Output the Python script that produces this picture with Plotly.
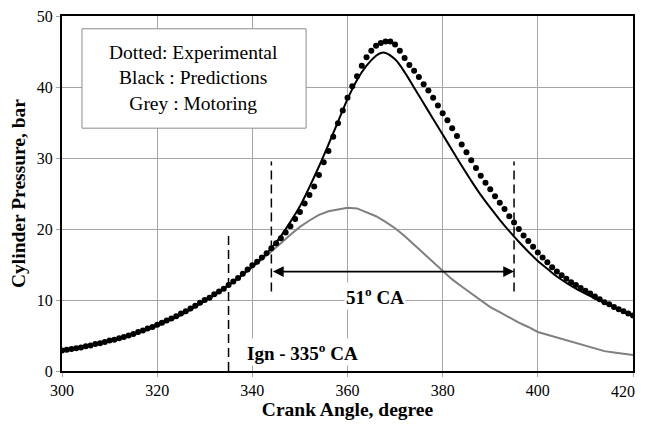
import plotly.graph_objects as go

# Experimental (dotted), 1-degree steps 300..420
exp_angle = list(range(300, 421))
exp_pressure = [
    2.9, 3.0, 3.1, 3.2, 3.3, 3.5, 3.6, 3.8, 3.9, 4.1,
    4.3, 4.4, 4.6, 4.8, 5.0, 5.2, 5.5, 5.7, 6.0, 6.2,
    6.5, 6.8, 7.1, 7.4, 7.7, 8.1, 8.4, 8.8, 9.2, 9.6,
    10.0, 10.3, 10.8, 11.2, 11.6, 12.1, 12.6, 13.1, 13.7, 14.3,
    14.9, 15.4, 16.0, 16.6, 17.3, 18.0, 18.7, 19.5, 20.4, 21.4,
    22.4, 23.6, 24.8, 26.0, 27.6, 29.4, 31.0, 33.0, 34.9, 36.7,
    38.5, 40.1, 41.5, 43.0, 44.2, 45.1, 45.8, 46.2, 46.4, 46.4,
    46.0, 45.1, 44.1, 43.1, 42.3, 41.4, 40.4, 39.5, 38.5, 37.4,
    36.3, 35.3, 34.2, 33.1, 31.9, 30.8, 29.7, 28.6, 27.5, 26.5,
    25.6, 24.6, 23.7, 22.8, 21.8, 20.9, 20.0, 19.1, 18.3, 17.5,
    16.7, 16.0, 15.3, 14.6, 14.0, 13.5, 13.0, 12.5, 12.1, 11.7,
    11.3, 10.9, 10.5, 10.1, 9.7, 9.4, 9.0, 8.7, 8.4, 8.1,
    7.8,
]

# Predictions (black line)
pred_angle = [300, 302, 304, 306, 308, 310, 312, 314, 316, 318, 320, 322, 324, 326, 328,
              330, 332, 334, 336, 338, 340, 342, 344, 346, 348, 350, 352, 354, 356, 358,
              360, 362, 364, 366, 367, 368, 370, 372, 374, 376, 378, 380, 382, 384, 386,
              388, 390, 392, 394, 396, 398, 400, 402, 404, 406, 408, 410, 412, 414, 416,
              418, 420]
pred_pressure = [2.8, 3.1, 3.3, 3.6, 3.9, 4.3, 4.6, 5.0, 5.4, 5.9, 6.4, 7.0, 7.6, 8.3, 9.1,
                 9.9, 10.7, 11.6, 12.6, 13.6, 14.7, 15.9, 17.3, 19.0, 21.0, 23.2, 25.9, 28.8, 31.9, 35.1,
                 38.3, 41.0, 43.0, 44.4, 44.8, 44.8, 43.9, 42.1, 39.9, 37.7, 35.5, 33.3, 31.1, 28.9, 26.8,
                 24.8, 23.0, 21.3, 19.7, 18.2, 16.8, 15.5, 14.4, 13.3, 12.4, 11.6, 10.9, 10.2, 9.6, 9.0,
                 8.4, 7.8]

# Motoring (grey line)
mot_angle = [300, 302, 304, 306, 308, 310, 312, 314, 316, 318, 320, 322, 324, 326, 328,
             330, 332, 334, 336, 338, 340, 342, 344, 346, 348, 350, 352, 354, 356, 358,
             360, 362, 364, 366, 368, 370, 372, 374, 376, 378, 380, 382, 384, 386, 388,
             390, 392, 394, 396, 398, 400, 402, 404, 406, 408, 410, 412, 414, 416, 418, 420]
mot_pressure = [2.7, 3.0, 3.2, 3.5, 3.8, 4.2, 4.5, 4.9, 5.3, 5.8, 6.3, 6.9, 7.5, 8.2, 9.0,
                9.8, 10.6, 11.5, 12.5, 13.5, 14.6, 15.7, 16.8, 18.0, 19.2, 20.3, 21.2, 22.0, 22.5, 22.8,
                23.0, 22.9, 22.4, 21.8, 21.0, 20.1, 19.0, 17.8, 16.6, 15.4, 14.1, 12.9, 11.9, 10.9, 9.9,
                9.0, 8.3, 7.5, 6.8, 6.2, 5.5, 5.1, 4.7, 4.3, 3.9, 3.5, 3.1, 2.8, 2.6, 2.4, 2.25]

x_ticks = [300, 320, 340, 360, 380, 400, 420]
x_tick_labels = ["300", "320", "340", "360", "380", "400", "420"]
y_ticks = [0, 10, 20, 30, 40, 50]

ign_angle = 335
comb_start, comb_end = 344, 395

SERIF = "Liberation Serif, Times New Roman, serif"

fig = go.Figure()
fig.add_trace(go.Scatter(x=mot_angle, y=mot_pressure, mode="lines",
                         line=dict(color="#7f7f7f", width=2), name="Motoring"))
fig.add_trace(go.Scatter(x=pred_angle, y=pred_pressure, mode="lines",
                         line=dict(color="black", width=2, shape="spline"), name="Predictions"))
fig.add_trace(go.Scatter(x=exp_angle, y=exp_pressure, mode="markers",
                         marker=dict(color="black", size=6), name="Experimental"))

# legend box
fig.add_shape(type="rect", xref="x", yref="y", x0=304.2, x1=351.3, y0=34.2, y1=48.2,
              line=dict(color="#8c8c8c", width=1), fillcolor="white", layer="between")
fig.add_annotation(x=327.7, y=41.2, xref="x", yref="y", showarrow=False,
                   text="Dotted: Experimental<br>Black : Predictions<br>Grey : Motoring",
                   font=dict(family=SERIF, size=19.5, color="black"), align="center")

# dashed markers
fig.add_shape(type="line", xref="x", yref="y", x0=ign_angle, x1=ign_angle, y0=0, y1=19.0,
              line=dict(color="black", width=1.5, dash="9px,5px"))
for a in (comb_start, comb_end):
    fig.add_shape(type="line", xref="x", yref="y", x0=a, x1=a, y0=11.2, y1=29.5,
                  line=dict(color="black", width=1.5, dash="9px,5px"))

# double arrow
fig.add_annotation(x=comb_end, y=14.0, ax=comb_start, ay=14.0, xref="x", yref="y",
                   axref="x", ayref="y", text="", showarrow=True, arrowhead=2,
                   arrowside="end+start", arrowsize=1.2, arrowwidth=1.8, arrowcolor="black")

fig.add_annotation(x=365.8, y=10.6, xref="x", yref="y", showarrow=False,
                   text="<b>51<sup>o</sup> CA</b>", bgcolor="white",
                   font=dict(family=SERIF, size=19, color="black"))
fig.add_annotation(x=350.5, y=2.7, xref="x", yref="y", showarrow=False,
                   text="<b>Ign - 335<sup>o</sup> CA</b>", bgcolor="white",
                   font=dict(family=SERIF, size=19, color="black"))

# last x tick label drawn as an annotation so it stays inside the visible page
fig.add_annotation(x=x_ticks[-1], y=0, xref="x", yref="y", showarrow=False,
                   text=x_tick_labels[-1], xanchor="right", yanchor="middle",
                   xshift=4, yshift=-20,
                   font=dict(family=SERIF, size=16, color="black"))

# page body has an 8px margin, so margins are offset to place the plot area
fig.update_layout(
    width=645, height=434,
    margin=dict(l=54, r=20, t=8, b=71, autoexpand=False),
    paper_bgcolor="white", plot_bgcolor="white",
    showlegend=False,
    font=dict(family=SERIF, color="black"),
)
fig.update_xaxes(range=[300, 420], tickvals=x_ticks,
                 ticktext=x_tick_labels[:-1] + [""],
                 automargin=False, ticklabeloverflow="allow",
                 showgrid=True, gridcolor="#a6a6a6", gridwidth=1,
                 showline=True, linecolor="black", linewidth=2, mirror=True,
                 ticks="outside", ticklen=4, tickcolor="#a6a6a6",
                 tickfont=dict(family=SERIF, size=16, color="black"),
                 title=dict(text="<b>Crank Angle, degree</b>", standoff=0,
                            font=dict(family=SERIF, size=19.5, color="black")),
                 zeroline=False)
fig.update_yaxes(range=[0, 50], tickvals=y_ticks, ticktext=[str(v) for v in y_ticks],
                 automargin=False, ticklabeloverflow="allow",
                 showgrid=True, gridcolor="#a6a6a6", gridwidth=1,
                 showline=True, linecolor="black", linewidth=2, mirror=True,
                 ticks="outside", ticklen=4, tickcolor="#a6a6a6",
                 tickfont=dict(family=SERIF, size=16, color="black"),
                 title=dict(text="<b>Cylinder Pressure, bar</b>", standoff=9,
                            font=dict(family=SERIF, size=19.5, color="black")),
                 zeroline=False)

fig.write_html("out.html")
